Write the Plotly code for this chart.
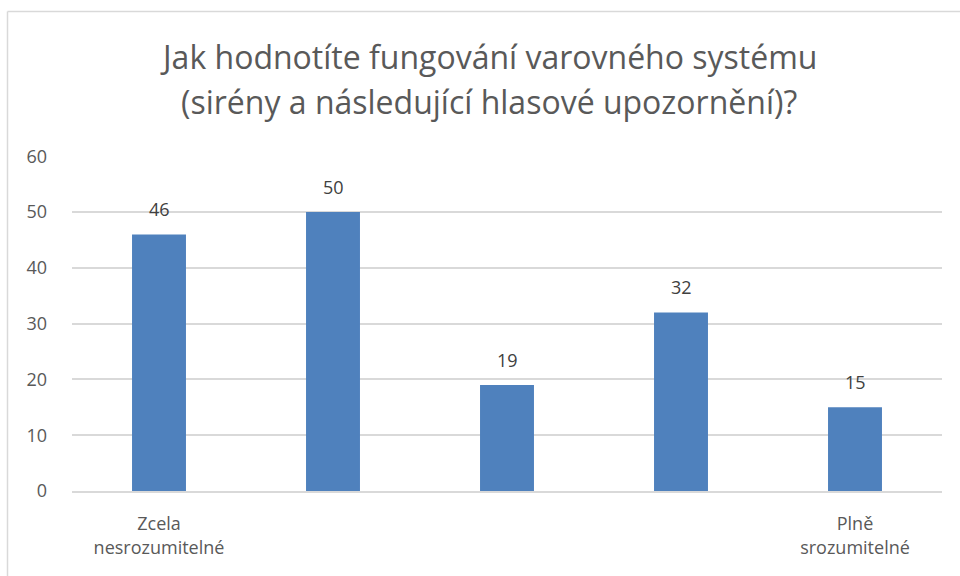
import plotly.graph_objects as go

categories = [1, 2, 3, 4, 5]
values = [46, 50, 19, 32, 15]
tick_positions = [1, 5]
tick_labels = ["Zcela<br>nesrozumitelné", "Plně<br>srozumitelné"]
title_lines = ["Jak hodnotíte fungování varovného systému",
               "(sirény a následující hlasové upozornění)?"]

FONT = "'Open Sans', 'Noto Sans', sans-serif"

W, H = 960, 576
L, R, T, B = 72, 18, 156, 85
pw = W - L - R
ph = H - T - B


def py(pix):
    """pixel y (from top of figure) -> paper y"""
    return (H - B - pix) / ph


def px(pix):
    return (pix - L) / pw


fig = go.Figure(
    go.Bar(
        x=categories,
        y=values,
        width=0.31,
        marker=dict(color="#4f81bd", line=dict(width=0)),
        hoverinfo="x+y",
    )
)

annotations = []
for c, v in zip(categories, values):
    annotations.append(dict(
        x=c, y=v, xref="x", yref="y", text=str(v), showarrow=False,
        yanchor="middle", xanchor="center", yshift=25,
        font=dict(size=18, color="#404040", family=FONT),
    ))

title_y = [57, 102]
for line, ypix in zip(title_lines, title_y):
    annotations.append(dict(
        x=px(488.5), y=py(ypix), xref="paper", yref="paper", text=line,
        showarrow=False, xanchor="center", yanchor="middle",
        font=dict(size=32, color="#595959", family=FONT),
    ))

bx = px(7.5)
by = py(11.5)

fig.update_layout(
    width=W,
    height=H,
    margin=dict(l=L, r=R, t=T, b=B, pad=0, autoexpand=False),
    paper_bgcolor="white",
    plot_bgcolor="white",
    showlegend=False,
    font=dict(family=FONT, color="#595959"),
    xaxis=dict(
        range=[0.5, 5.5],
        tickvals=tick_positions,
        ticktext=tick_labels,
        tickfont=dict(size=18, color="#595959", family=FONT),
        showgrid=False,
        zeroline=False,
        showline=True,
        linecolor="#d9d9d9",
        linewidth=1.5,
        ticks="",
        ticklabelstandoff=16,
        automargin=False,
        fixedrange=True,
    ),
    yaxis=dict(
        range=[0, 60.05],
        tickvals=[0, 10, 20, 30, 40, 50, 60],
        tickfont=dict(size=18, color="#595959", family=FONT),
        showgrid=True,
        gridcolor="#d9d9d9",
        gridwidth=1.5,
        zeroline=False,
        showline=False,
        ticks="",
        ticklabelstandoff=24,
        automargin=False,
        fixedrange=True,
    ),
    annotations=annotations,
    shapes=[
        dict(type="line", xref="paper", yref="paper", x0=bx, x1=bx, y0=-0.5, y1=by,
             line=dict(color="#d9d9d9", width=1.5)),
        dict(type="line", xref="paper", yref="paper", x0=bx, x1=1.2, y0=by, y1=by,
             line=dict(color="#d9d9d9", width=1.5)),
    ],
)

fig.write_html(
    "out.html",
    config={"displayModeBar": False},
    post_script="document.body.style.margin='0';document.body.style.overflow='hidden';",
)
